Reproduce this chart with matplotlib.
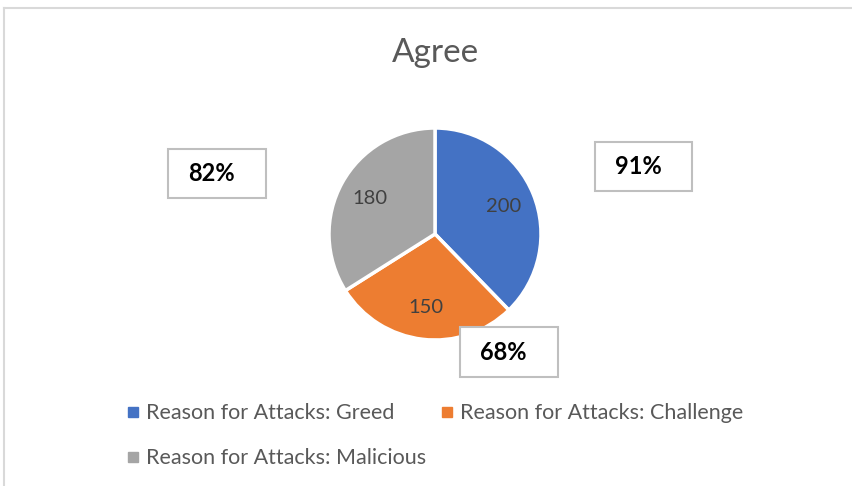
import matplotlib.pyplot as plt
from matplotlib.lines import Line2D
from matplotlib.patches import Rectangle

plt.rcParams["font.family"] = ["Lato", "DejaVu Sans"]

categories = [
    "Reason for Attacks: Greed",
    "Reason for Attacks: Challenge",
    "Reason for Attacks: Malicious",
]
values = [200, 150, 180]
colors = ["#4472C4", "#ED7D31", "#A5A5A5"]
box_labels = ["82%", "91%", "68%"]

W, H = 853, 486
fig = plt.figure(figsize=(W / 100, H / 100), dpi=100)
fig.patch.set_facecolor("white")

# outer frame (only top and left edges show)
fig.add_artist(Line2D([4 / W, 4 / W], [0, 1 - 8 / H], transform=fig.transFigure,
                      color="#D9D9D9", lw=1.5))
fig.add_artist(Line2D([4 / W, 1], [1 - 8 / H, 1 - 8 / H], transform=fig.transFigure,
                      color="#D9D9D9", lw=1.5))

fig.text(435 / W, 1 - 53 / H, "Agree", ha="center", va="center",
         fontsize=24, color="#595959")

cx, cy, r = 435, 234, 106
ax = fig.add_axes([(cx - r) / W, (H - cy - r) / H, 2 * r / W, 2 * r / H])
wedges, _, autotexts = ax.pie(
    values,
    colors=colors,
    startangle=90,
    counterclock=False,
    autopct=lambda p: f"{p * sum(values) / 100:.0f}",
    pctdistance=0.7,
    wedgeprops={"edgecolor": "white", "linewidth": 2.5},
    textprops={"fontsize": 14.5, "color": "#404040"},
)
ax.set_xlim(-1.0, 1.0)
ax.set_ylim(-1.0, 1.0)
ax.set_aspect("equal")
ax.axis("off")

# percentage text boxes
boxes = [(168, 149, 98, 49), (595, 142, 97, 49), (460, 327, 98, 50)]
for (bx, by, bw, bh), label in zip(boxes, box_labels):
    fig.add_artist(Rectangle((bx / W, 1 - (by + bh) / H), bw / W, bh / H,
                             transform=fig.transFigure, facecolor="white",
                             edgecolor="#BFBFBF", lw=1.5, zorder=5))
    fig.text((bx + 20) / W, 1 - (by + bh / 2) / H, label, ha="left", va="center",
             fontsize=17, fontweight="bold", color="black", zorder=6)

handles = [Line2D([], [], marker="s", linestyle="none", markersize=7,
                  color=c) for c in colors]
order = [0, 2, 1]
leg = fig.legend(
    [handles[i] for i in order],
    [categories[i] for i in order],
    ncol=2,
    loc="upper left",
    bbox_to_anchor=(108 / W, 1 - 384 / H),
    frameon=False,
    fontsize=15.5,
    handlelength=0.5,
    handletextpad=0.35,
    columnspacing=0.75,
    labelspacing=1.15,
)
for t in leg.get_texts():
    t.set_color("#595959")

fig.savefig("out.png", dpi=100)
